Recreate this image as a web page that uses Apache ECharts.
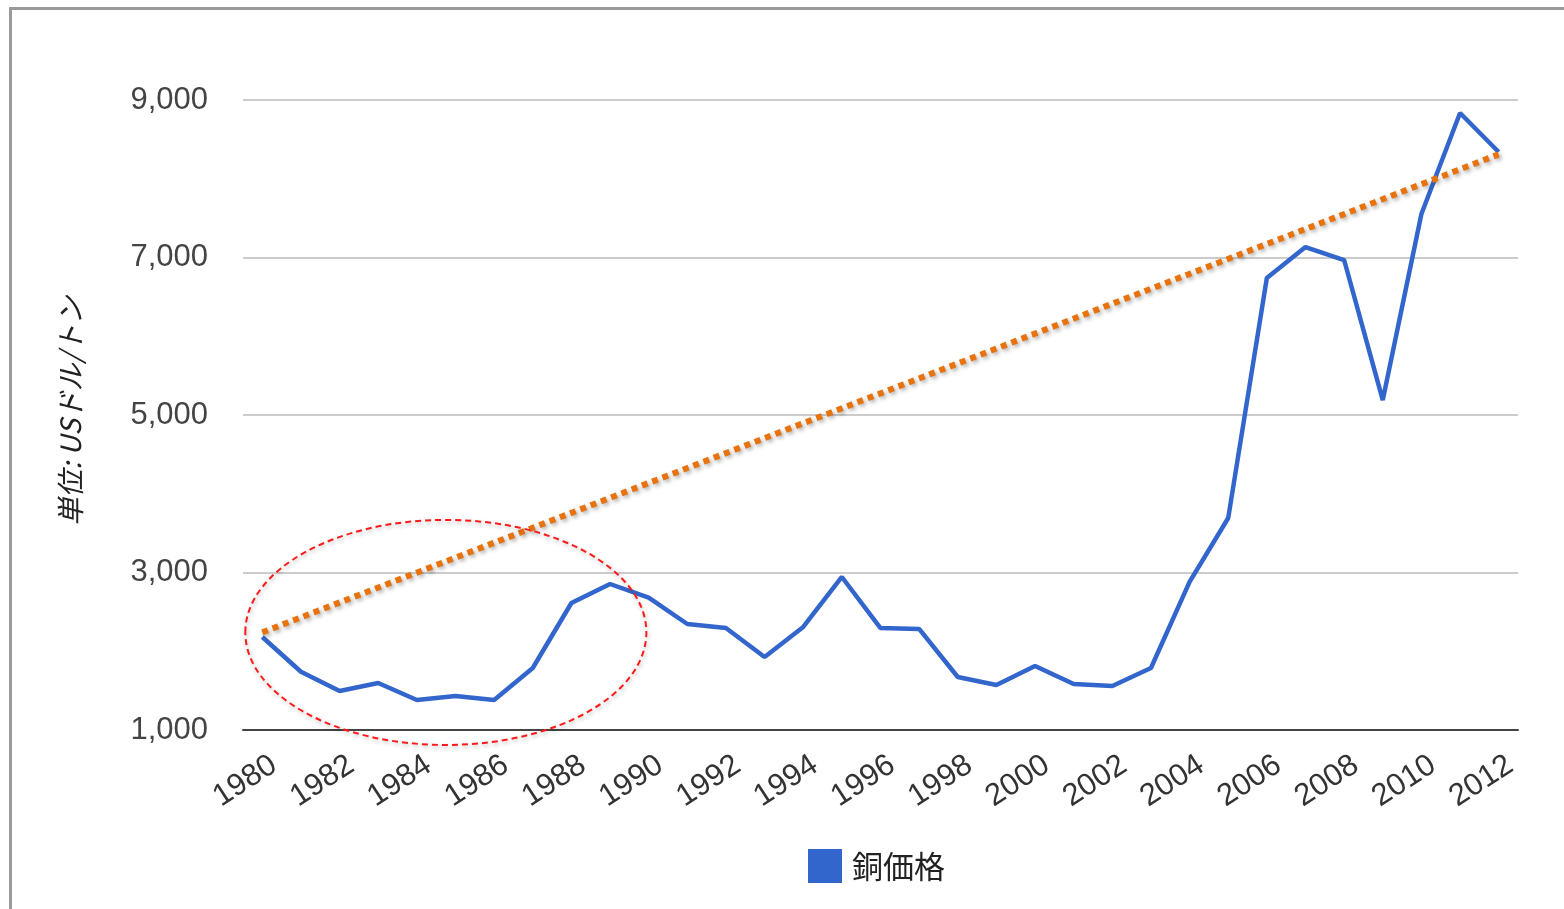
<!DOCTYPE html>
<html lang="ja">
<head>
<meta charset="utf-8">
<title>銅価格の推移</title>
<script src="https://cdn.jsdelivr.net/npm/echarts@6/dist/echarts.min.js"></script>
<style>
  html, body { margin: 0; padding: 0; background: #fff; }
  #chart { width: 1564px; height: 909px; }
</style>
</head>
<body>
<div id="chart"></div>
<script>
// 年（横軸カテゴリ）
const years = [
  '1980','1981','1982','1983','1984','1985','1986','1987','1988','1989',
  '1990','1991','1992','1993','1994','1995','1996','1997','1998','1999',
  '2000','2001','2002','2003','2004','2005','2006','2007','2008','2009',
  '2010','2011','2012'
];

// 銅価格（USドル/トン）
const copperPrice = [
  2181, 1740, 1495, 1597, 1381, 1432, 1381, 1787, 2613, 2854,
  2680, 2346, 2295, 1927, 2308, 2943, 2295, 2283, 1673, 1571,
  1813, 1584, 1559, 1787, 2880, 3692, 6740, 7133, 6968, 5190,
  7552, 8835, 8340
];

// 傾向線の始点と終点（1980年・2012年）
const trendStart = 2240;
const trendEnd = 8310;

// 縦軸の目盛り
const yTicks = [1000, 3000, 5000, 7000, 9000];

// 1980年代を囲む楕円の範囲（カテゴリ番号・価格）
const circleXRange = [-0.44, 9.94];
const circleYRange = [810, 3668];

const trendData = years.map((_, i) =>
  i === 0 ? trendStart : (i === years.length - 1 ? trendEnd : null));

const chart = echarts.init(document.getElementById('chart'));

const labelFont = 'Liberation Sans, Arial, sans-serif';

chart.setOption({
  animation: false,
  backgroundColor: '#ffffff',
  grid: { left: 243, right: 46, top: 100, bottom: 179, containLabel: false },
  legend: {
    data: ['銅価格'],
    left: 803,
    top: 844,
    icon: 'rect',
    itemWidth: 34,
    itemHeight: 34,
    itemGap: 10,
    textStyle: {
      fontSize: 31,
      color: '#222',
      padding: [0, 0, 0, 5],
      fontFamily: '"Noto Sans CJK JP", sans-serif'
    }
  },
  xAxis: {
    type: 'category',
    data: years,
    boundaryGap: true,
    axisTick: { show: false },
    axisLine: { lineStyle: { color: '#444', width: 2 } },
    axisLabel: {
      interval: 1,
      rotate: 33,
      margin: 40,
      padding: [0, -14, 0, 0],
      fontSize: 31,
      color: '#333',
      fontFamily: labelFont
    },
    splitLine: { show: false }
  },
  yAxis: {
    type: 'value',
    min: yTicks[0],
    max: yTicks[yTicks.length - 1],
    interval: yTicks[1] - yTicks[0],
    axisLine: { show: false },
    axisTick: { show: false },
    axisLabel: {
      margin: 35,
      fontSize: 31,
      color: '#444',
      fontFamily: labelFont,
      formatter: v => v.toLocaleString('en-US')
    },
    splitLine: { lineStyle: { color: '#cccccc', width: 2 } }
  },
  series: [
    {
      name: '銅価格',
      type: 'line',
      data: copperPrice,
      symbol: 'none',
      color: '#3366cc',
      lineStyle: { color: '#3366cc', width: 4.5 },
      z: 3
    },
    {
      name: '傾向',
      type: 'line',
      data: trendData,
      connectNulls: true,
      symbol: 'none',
      color: '#e8720c',
      lineStyle: {
        color: '#e8720c',
        width: 6,
        type: [6, 5],
        cap: 'butt',
        shadowBlur: 4,
        shadowColor: 'rgba(0,0,0,0.35)',
        shadowOffsetX: 2,
        shadowOffsetY: 2
      },
      z: 4
    }
  ]
});

// 楕円は軸の座標から位置を求めて描く
function px(idx, val) {
  const p0 = chart.convertToPixel({ gridIndex: 0 }, [0, val]);
  const p1 = chart.convertToPixel({ gridIndex: 0 }, [1, val]);
  return [p0[0] + (p1[0] - p0[0]) * idx, p0[1]];
}
const a = px(circleXRange[0], circleYRange[1]);
const b = px(circleXRange[1], circleYRange[0]);

chart.setOption({
  graphic: [
    {
      type: 'rect',
      left: 8,
      top: 6,
      shape: { width: 1700, height: 1000 },
      style: { fill: 'none', stroke: '#9a9a9a', lineWidth: 3 },
      silent: true,
      z: -1
    },
    {
      type: 'text',
      x: 70,
      y: 411,
      rotation: Math.PI / 2,
      style: {
        text: '単位: USドル/トン',
        font: 'italic 28px "Noto Sans CJK JP", sans-serif',
        fill: '#222',
        align: 'center',
        verticalAlign: 'middle'
      }
    },
    {
      type: 'ellipse',
      shape: {
        cx: (a[0] + b[0]) / 2,
        cy: (a[1] + b[1]) / 2,
        rx: (b[0] - a[0]) / 2,
        ry: (b[1] - a[1]) / 2
      },
      style: {
        fill: 'none',
        stroke: '#ff1a1a',
        lineWidth: 2,
        lineDash: [6, 4],
        shadowBlur: 4,
        shadowColor: 'rgba(0,0,0,0.3)',
        shadowOffsetX: 1,
        shadowOffsetY: 2
      },
      silent: true,
      z: 10
    }
  ]
});
</script>
</body>
</html>
